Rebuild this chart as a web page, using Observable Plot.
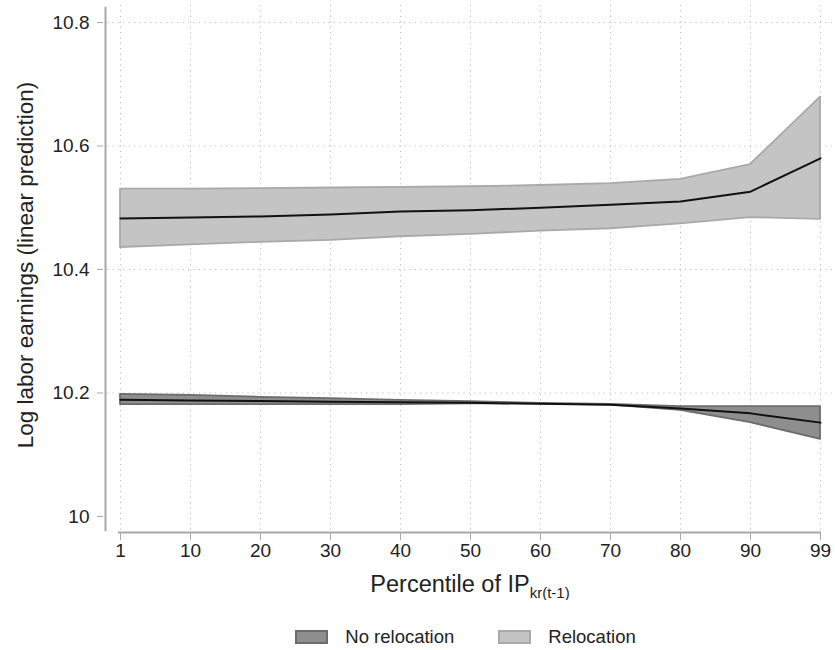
<!DOCTYPE html>
<html>
<head>
<meta charset="utf-8">
<script src="https://cdn.jsdelivr.net/npm/d3@7"></script>
<script src="https://cdn.jsdelivr.net/npm/@observablehq/plot@0.6"></script>
<style>
  body { margin: 0; background: #fff; font-family: "Liberation Sans", Arial, sans-serif; }
  #legend { display: flex; justify-content: center; align-items: center; font-size: 18.5px; color: #222; margin-top: 26px; padding-left: 96px; }
  .item { display: flex; align-items: center; margin: 0 22px; }
  .sw { width: 29px; height: 10px; border-width: 2px; border-style: solid; margin-right: 17px; }
</style>
</head>
<body>
<div id="chart"></div>
<div id="legend"></div>
<script>
// Percentiles (x categories)
const percentiles = [1, 10, 20, 30, 40, 50, 60, 70, 80, 90, 99];

// No relocation: mean and confidence bounds
const noRelMean  = [10.189, 10.188, 10.187, 10.186, 10.185, 10.184, 10.1825, 10.181, 10.175, 10.167, 10.152];
const noRelLow   = [10.1814, 10.181, 10.181, 10.181, 10.181, 10.1825, 10.182, 10.1805, 10.172, 10.152, 10.125];
const noRelHigh  = [10.1976, 10.196, 10.193, 10.191, 10.188, 10.186, 10.183, 10.1815, 10.178, 10.178, 10.178];

// Relocation: mean and confidence bounds
const relMean = [10.4826, 10.484, 10.486, 10.489, 10.494, 10.496, 10.500, 10.505, 10.510, 10.526, 10.580];
const relLow  = [10.4356, 10.440, 10.444, 10.447, 10.453, 10.457, 10.462, 10.466, 10.474, 10.484, 10.481];
const relHigh = [10.530, 10.530, 10.531, 10.532, 10.533, 10.534, 10.536, 10.539, 10.546, 10.570, 10.679];

// Axis ticks
const yTicks = [10, 10.2, 10.4, 10.6, 10.8];
const yGrid = [10.2, 10.4, 10.6, 10.8];
const xTickLabels = percentiles.map(String);

const series = ["No relocation", "Relocation"];
const fills = ["#8e8e8e", "#c4c4c4"];
const strokes = ["#6c6c6c", "#a9a9a9"];

const rows = (mean, lo, hi, name) => percentiles.map((p, i) => ({p: String(p), mean: mean[i], lo: lo[i], hi: hi[i], series: name}));
const noRel = rows(noRelMean, noRelLow, noRelHigh, series[0]);
const rel = rows(relMean, relLow, relHigh, series[1]);

const yMin = 9.9757, yMax = 10.8275;
const dotted = {stroke: "#bdbdbd", strokeDasharray: "1.2,4.2", strokeWidth: 1};

const plot = Plot.plot({
  width: 835,
  height: 600,
  marginLeft: 118,
  marginRight: 14,
  marginTop: 5,
  marginBottom: 69,
  style: {fontFamily: "'Liberation Sans', Arial, sans-serif", fontSize: "19px", color: "#222", background: "#fff"},
  x: {type: "point", domain: xTickLabels, padding: 0},
  y: {domain: [yMin, yMax]},
  marks: [
    // grid
    Plot.ruleX(xTickLabels, {x: d => d, ...dotted}),
    Plot.ruleY(yGrid, {y: d => d, insetLeft: -11, insetRight: -14, ...dotted}),
    // bands
    Plot.areaY(noRel, {x: "p", y1: "lo", y2: "hi", fill: fills[0], stroke: strokes[0], strokeWidth: 1.8, curve: "linear"}),
    Plot.areaY(rel, {x: "p", y1: "lo", y2: "hi", fill: fills[1], stroke: strokes[1], strokeWidth: 1.8, curve: "linear"}),
    // mean lines
    Plot.lineY(noRel, {x: "p", y: "mean", stroke: "#111", strokeWidth: 2}),
    Plot.lineY(rel, {x: "p", y: "mean", stroke: "#111", strokeWidth: 2}),
    // axis lines
    Plot.ruleY([yMin], {stroke: "#a8a8a8", strokeWidth: 2, dy: 1}),
    Plot.ruleX([xTickLabels[0]], {y1: yMin, y2: yMax - 0.003, dx: -15, stroke: "#a8a8a8", strokeWidth: 2}),
    // axes
    Plot.axisY(yTicks, {dx: -15, tickSize: 6, tickPadding: 8, stroke: "#a8a8a8", fontSize: 19, label: null,
      tickFormat: d => String(+d.toFixed(1))}),
    Plot.axisX({tickSize: 8, tickPadding: 3, stroke: "#a8a8a8", fontSize: 19, label: null, dy: 1})
  ]
});

const svg = d3.select(plot);
svg.append("text")
  .attr("transform", "translate(27,265) rotate(-90)")
  .attr("text-anchor", "middle")
  .attr("dominant-baseline", "middle")
  .attr("font-size", 22.5)
  .attr("fill", "#222")
  .text("Log labor earnings (linear prediction)");
const xl = svg.append("text")
  .attr("x", 470)
  .attr("y", 592)
  .attr("text-anchor", "middle")
  .attr("font-size", 23.5)
  .attr("fill", "#222");
xl.append("tspan").text("Percentile of IP");
xl.append("tspan").attr("font-size", 15).attr("dy", 6).text("kr(t-1)");

document.getElementById("chart").appendChild(plot);

const legend = d3.select("#legend");
series.forEach((s, i) => {
  const it = legend.append("div").attr("class", "item");
  it.append("div").attr("class", "sw").style("background", fills[i]).style("border-color", strokes[i]);
  it.append("span").text(s);
});
</script>
</body>
</html>
